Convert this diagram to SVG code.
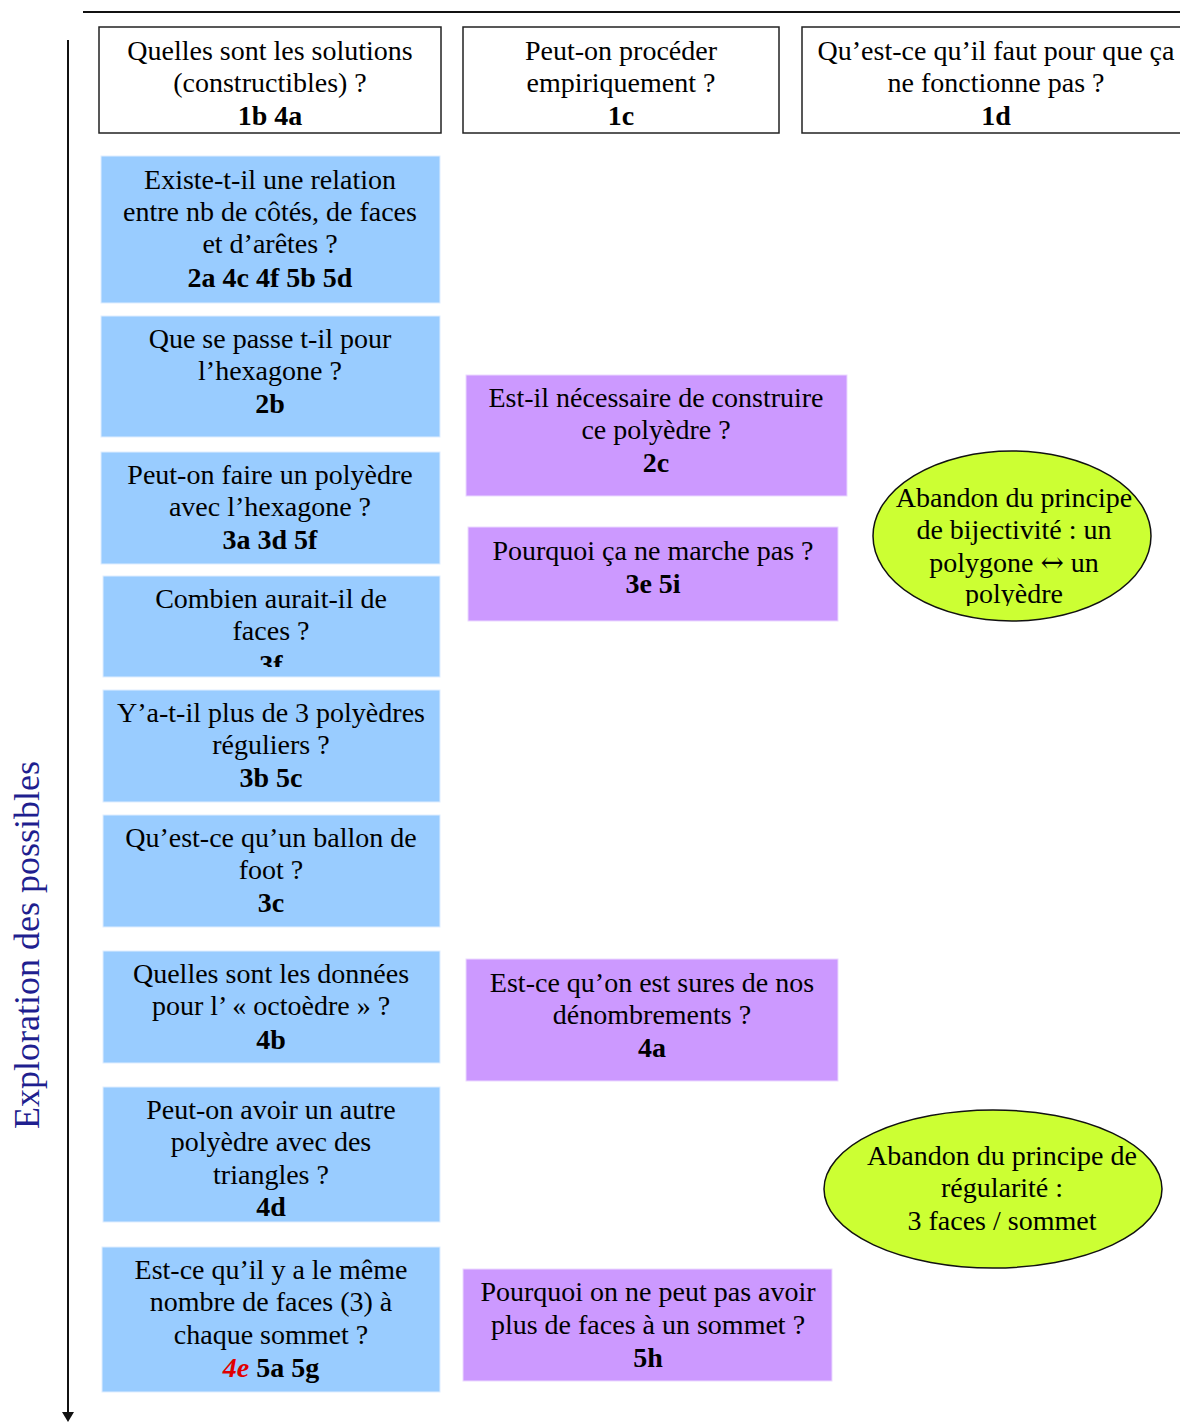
<svg xmlns="http://www.w3.org/2000/svg" width="1180" height="1423" viewBox="0 0 1180 1423">
<style>
text{font-family:"Liberation Serif","Times New Roman",serif;font-size:28px;fill:#000;text-anchor:middle}
.b{font-weight:bold}
.hdr{fill:#fff;stroke:#222;stroke-width:1.5}
.blue{fill:#99ccff;stroke:#dfeeff;stroke-width:1}
.pur{fill:#cc99ff;stroke:#ebd9ff;stroke-width:1}
.ell{fill:#ccff33;stroke:#111;stroke-width:1.5}
.ax{stroke:#111;stroke-width:2;fill:none}
.arw{font-family:"DejaVu Serif",serif}
</style>
<defs>
<clipPath id="c4"><rect x="103" y="576" width="337" height="91"/></clipPath>
<clipPath id="ce1"><rect x="860" y="440" width="320" height="166"/></clipPath>
</defs>
<g id="connectors">
<line class="ax" x1="83" y1="12" x2="1180" y2="12"/>
<line class="ax" x1="68" y1="40" x2="68" y2="1412"/>
<path d="M62,1412 L74,1412 L68,1422 Z" fill="#111"/>
</g>
<g id="axis-label">
<text transform="translate(39,945) rotate(-90)" style="font-size:36px;fill:#1f1f8f">Exploration des possibles</text>
</g>
<g id="h1"><rect class="hdr" x="99" y="27" width="342" height="106"/>
<text x="270" y="60">Quelles sont les solutions</text><text x="270" y="92">(constructibles) ?</text><text x="270" y="125" class="b">1b 4a</text></g>
<g id="h2"><rect class="hdr" x="463" y="27" width="316" height="106"/>
<text x="621" y="60">Peut-on procéder</text><text x="621" y="92">empiriquement ?</text><text x="621" y="125" class="b">1c</text></g>
<g id="h3"><rect class="hdr" x="802" y="27" width="400" height="106"/>
<text x="996" y="60">Qu’est-ce qu’il faut pour que ça</text><text x="996" y="92">ne fonctionne pas ?</text><text x="996" y="125" class="b">1d</text></g>

<g id="b1"><rect class="blue" x="101" y="156" width="339" height="147"/>
<text x="270" y="189">Existe-t-il une relation</text><text x="270" y="221">entre nb de côtés, de faces</text><text x="270" y="253">et d’arêtes ?</text><text x="270" y="287" class="b">2a 4c 4f 5b 5d</text></g>
<g id="b2"><rect class="blue" x="101" y="316" width="339" height="121"/>
<text x="270" y="348">Que se passe t-il pour</text><text x="270" y="380">l’hexagone ?</text><text x="270" y="413" class="b">2b</text></g>
<g id="b3"><rect class="blue" x="101" y="452" width="339" height="112"/>
<text x="270" y="484">Peut-on faire un polyèdre</text><text x="270" y="516">avec l’hexagone ?</text><text x="270" y="549" class="b">3a 3d 5f</text></g>
<g id="b4"><rect class="blue" x="103" y="576" width="337" height="101"/>
<g clip-path="url(#c4)"><text x="271" y="608">Combien aurait-il de</text><text x="271" y="640">faces ?</text><text x="271" y="674" class="b">3f</text></g></g>
<g id="b5"><rect class="blue" x="103" y="690" width="337" height="112"/>
<text x="271" y="722">Y’a-t-il plus de 3 polyèdres</text><text x="271" y="754">réguliers ?</text><text x="271" y="787" class="b">3b 5c</text></g>
<g id="b6"><rect class="blue" x="103" y="815" width="337" height="112"/>
<text x="271" y="847">Qu’est-ce qu’un ballon de</text><text x="271" y="879">foot ?</text><text x="271" y="912" class="b">3c</text></g>
<g id="b7"><rect class="blue" x="103" y="951" width="337" height="112"/>
<text x="271" y="983">Quelles sont les données</text><text x="271" y="1015">pour l’ « octoèdre » ?</text><text x="271" y="1049" class="b">4b</text></g>
<g id="b8"><rect class="blue" x="103" y="1087" width="337" height="135"/>
<text x="271" y="1119">Peut-on avoir un autre</text><text x="271" y="1151">polyèdre avec des</text><text x="271" y="1184">triangles ?</text><text x="271" y="1216" class="b">4d</text></g>
<g id="b9"><rect class="blue" x="102" y="1247" width="338" height="145"/>
<text x="271" y="1279">Est-ce qu’il y a le même</text><text x="271" y="1311">nombre de faces (3) à</text><text x="271" y="1344">chaque sommet ?</text><text x="271" y="1377" class="b"><tspan style="fill:#e00000;font-style:italic">4e</tspan> 5a 5g</text></g>

<g id="p1"><rect class="pur" x="466" y="375" width="381" height="121"/>
<text x="656" y="407">Est-il nécessaire de construire</text><text x="656" y="439">ce polyèdre ?</text><text x="656" y="472" class="b">2c</text></g>
<g id="p2"><rect class="pur" x="468" y="527" width="370" height="94"/>
<text x="653" y="560">Pourquoi ça ne marche pas ?</text><text x="653" y="593" class="b">3e 5i</text></g>
<g id="p3"><rect class="pur" x="466" y="959" width="372" height="122"/>
<text x="652" y="992">Est-ce qu’on est sures de nos</text><text x="652" y="1024">dénombrements ?</text><text x="652" y="1057" class="b">4a</text></g>
<g id="p4"><rect class="pur" x="463" y="1269" width="369" height="112"/>
<text x="648" y="1301">Pourquoi on ne peut pas avoir</text><text x="648" y="1334">plus de faces à un sommet ?</text><text x="648" y="1367" class="b">5h</text></g>

<g id="e1"><ellipse class="ell" cx="1012" cy="536" rx="139" ry="85"/>
<g clip-path="url(#ce1)"><text x="1014" y="507">Abandon du principe</text><text x="1014" y="539">de bijectivité : un</text><text x="1014" y="572">polygone <tspan class="arw">↔</tspan> un</text><text x="1014" y="603">polyèdre</text></g></g>
<g id="e2"><ellipse class="ell" cx="993" cy="1189" rx="169" ry="79"/>
<text x="1002" y="1165">Abandon du principe de</text><text x="1002" y="1197">régularité :</text><text x="1002" y="1230">3 faces / sommet</text></g>
</svg>
